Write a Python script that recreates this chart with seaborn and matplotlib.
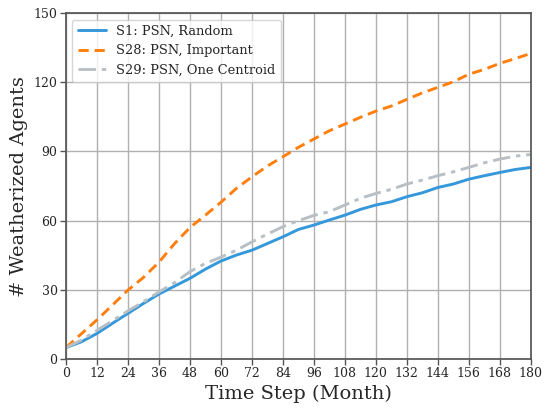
import numpy as np
import pandas as pd
import matplotlib
matplotlib.use("Agg")
import matplotlib.pyplot as plt
import seaborn as sns

months = list(range(0, 181, 6))
s1_random = [5, 7.5, 11.1, 15.5, 19.8, 24.1, 28.2, 31.6, 35.0, 39.0, 42.5,
             45.1, 47.2, 50.1, 53.0, 56.2, 58.1, 60.3, 62.4, 64.9, 66.8,
             68.2, 70.4, 72.1, 74.4, 75.9, 78.0, 79.5, 80.9, 82.2, 83.1]
s28_important = [5, 11, 17, 23.4, 29.9, 35.4, 42, 50, 57, 62.4, 68,
                 74, 79, 83.7, 87.7, 91.8, 95.4, 99, 101.9, 104.8, 107.5,
                 109.7, 112.6, 115.4, 117.8, 120.2, 123.5, 125.6, 128.2, 130.3, 132.5]
s29_centroid = [5, 8.2, 12.5, 16.6, 20.9, 24.8, 29.1, 33.1, 37.9, 41.5, 44.2,
                47.2, 50.8, 54.2, 57.4, 60.0, 62.3, 63.9, 66.8, 69.7, 71.8,
                73.6, 75.9, 77.6, 79.5, 81.2, 83.1, 85.1, 86.7, 88.0, 88.7]
labels = ["S1: PSN, Random", "S28: PSN, Important", "S29: PSN, One Centroid"]
x_ticks = list(range(0, 181, 12))
y_ticks = [0, 30, 60, 90, 120, 150]

sns.set_style("whitegrid")
plt.rcParams["font.family"] = ["DejaVu Serif"]

fig = plt.figure(figsize=(5.45, 4.09), dpi=100)
ax = fig.add_axes([0.121, 0.122, 0.853, 0.846])

styles = [("#3498db", "-"), ("#ff7f0e", (0, (3.5, 2))), ("#b8c0c6", (0, (6, 2, 1.5, 2)))]
for vals, lab, (col, ls) in zip([s1_random, s28_important, s29_centroid], labels, styles):
    df = pd.DataFrame({"t": months, "v": vals})
    sns.lineplot(data=df, x="t", y="v", ax=ax, color=col, linewidth=2.1, label=lab)
    ax.lines[-1].set_linestyle(ls)

ax.set_xlim(0, 180)
ax.set_ylim(0, 150)
ax.set_xticks(x_ticks)
ax.set_yticks(y_ticks)
ax.tick_params(axis="both", labelsize=9, length=4, width=1, color="#555555",
               left=True, bottom=True, pad=2)
ax.grid(True, color="#b0b0b0", linewidth=1)
for sp in ax.spines.values():
    sp.set_color("#555555")
    sp.set_linewidth(1.25)
ax.set_xlabel("Time Step (Month)", fontsize=14, labelpad=3)
ax.set_ylabel("# Weatherized Agents", fontsize=14, labelpad=4)
leg = ax.legend(loc="upper left", fontsize=9.4, frameon=True, handlelength=2.15,
                borderaxespad=0.5)
leg.get_frame().set_edgecolor("#cccccc")

fig.savefig("out.png", dpi=100)
